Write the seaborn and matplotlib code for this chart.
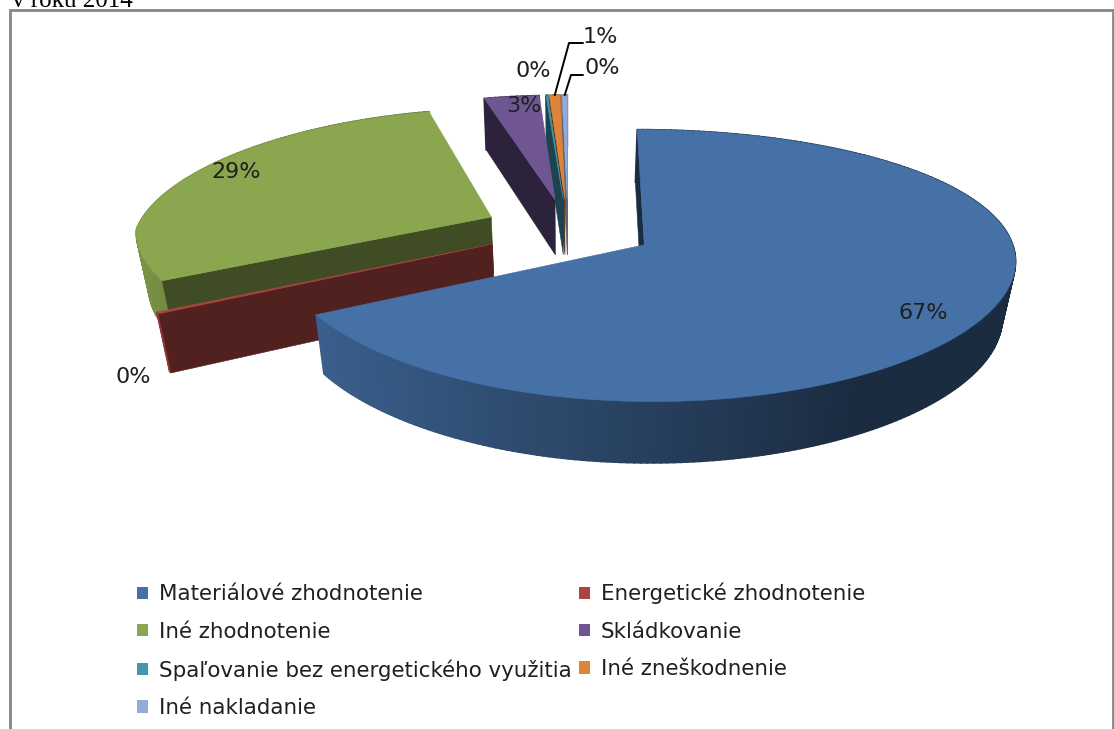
import numpy as np
import matplotlib
matplotlib.use("Agg")
import matplotlib.pyplot as plt
from matplotlib.patches import Patch, Rectangle
import seaborn as sns

categories = ["Materiálové zhodnotenie", "Energetické zhodnotenie", "Iné zhodnotenie",
              "Skládkovanie", "Spaľovanie bez energetického využitia", "Iné zneškodnenie",
              "Iné nakladanie"]
shares = [66.9, 0.2, 28.8, 3.1, 0.1, 0.6, 0.3]
colors = ["#4571A7", "#A94442", "#8AA64E", "#6F5693", "#3F97AE", "#DD843A", "#93ABD6"]
heading = "v roku 2014"

sns.set_theme(style="white")
palette = sns.color_palette(colors)

# projection of the tilted, exploded pie
CX, CY, A_RIGHT, A_LEFT, B, DEPTH = 568.0, 229.0, 364.0, 355.0, 128.0, 58.0
K, KX, KX_REAR, M, EXPLODE = 0.15, 0.10, 0.20, 0.03, 0.24


def project(X, Y, z):
    X, Y = np.asarray(X, float), np.asarray(Y, float)
    w = 1 + K * Y + M * z
    rear_left = (X < 0) & (Y > 0)
    wx = 1 + np.where(rear_left, KX_REAR, KX) * Y + M * z
    scale = np.where(X > 0, A_RIGHT, A_LEFT)
    return CX + scale * X / wx, CY - B * Y / w + DEPTH * z / w


def wall_light(theta):
    nx = np.sin(theta)
    return np.interp(nx, [-1.0, 0.0, 0.5, 1.0], [0.88, 0.56, 0.39, 0.39])


def shade(col, f):
    return tuple(c * f for c in col)


fig = plt.figure(figsize=(11.14, 7.29), dpi=100)
ax = fig.add_axes([0, 0, 1, 1])
ax.set_xlim(0, 1114)
ax.set_ylim(729, 0)
ax.axis("off")

ax.add_patch(Rectangle((9.5, 10), 1103, 740, fc="white", ec="#868686", lw=2))

fractions = np.array(shares) / sum(shares)
edges = np.concatenate([[0], np.cumsum(fractions)]) * 2 * np.pi
face_light = [0.39, 0.48, 0.46, 0.40, 0.45, 0.42, 0.6]


def slice_geometry(i):
    t0, t1 = edges[i], edges[i + 1]
    mid = (t0 + t1) / 2
    ox, oy = EXPLODE * np.sin(mid), EXPLODE * np.cos(mid)
    th = np.linspace(t0, t1, max(4, int((t1 - t0) * 60)))
    return th, ox, oy


def area(px, py):
    return 0.5 * np.sum(np.array(px) * np.roll(py, -1) - np.roll(px, -1) * np.array(py))


rim_tops = {}
for i in [6, 5, 4, 3, 2, 1, 0]:
    th, ox, oy = slice_geometry(i)
    col = palette[i]
    rx, ry = ox + np.sin(th), oy + np.cos(th)
    z_base = 2 + (6 - i) * 0.1
    # outer wall
    for a in range(len(th) - 1):
        X = [rx[a], rx[a + 1], rx[a + 1], rx[a]]
        Y = [ry[a], ry[a + 1], ry[a + 1], ry[a]]
        Z = [0, 0, 1, 1]
        px, py = zip(*[project(p, q, r) for p, q, r in zip(X, Y, Z)])
        fc = shade(col, wall_light((th[a] + th[a + 1]) / 2))
        ax.fill(px, py, color=fc, lw=1.2, zorder=z_base)
    # cut faces
    for t, sign in ((th[0], 1), (th[-1], -1)):
        X = [ox, ox + np.sin(t), ox + np.sin(t), ox]
        Y = [oy, oy + np.cos(t), oy + np.cos(t), oy]
        Z = [0, 0, 1, 1]
        px, py = zip(*[project(a, b, c) for a, b, c in zip(X, Y, Z)])
        if sign * area(px, py) < 0:
            ax.fill(px, py, color=shade(col, face_light[i]), lw=0.4, zorder=z_base + 0.02)
    # top surface
    tx, ty = project(np.r_[ox, rx], np.r_[oy, ry], 0)
    ax.fill(tx, ty, color=col, lw=0.4, zorder=z_base + 0.05)
    rim_tops[i] = project(ox + np.sin((th[0] + th[-1]) / 2), oy + np.cos((th[0] + th[-1]) / 2), 0)

text_kw = dict(color="#1f1f1f", fontsize=16, ha="center", va="center", zorder=6)
label_positions = [(923, 313), (133, 377), (236, 172), (524, 106), (533, 71), (600, 37), (602, 68)]
for v, (lx, ly) in zip(shares, label_positions):
    ax.text(lx, ly, f"{v:.0f}%", **text_kw)

# leader lines
for i, (mx, my) in ((5, (569, 43)), (6, (571, 75))):
    sx, sy = rim_tops[i]
    ax.plot([sx, mx, 583], [sy, my, my], color="black", lw=1.4, zorder=5)

handles = [Patch(facecolor=c, edgecolor="none") for c in palette]
order = [0, 2, 4, 6, 1, 3, 5]
ax.legend([handles[i] for i in order], [categories[i] for i in order], ncols=2,
          frameon=False, fontsize=15.4,
          loc="upper left", bbox_to_anchor=(137 / 1114, 1 - 583 / 729),
          borderaxespad=0, borderpad=0, handlelength=0.52, handleheight=0.52,
          handletextpad=0.51, labelspacing=0.81, columnspacing=0.33,
          labelcolor="#1f1f1f")

ax.text(12, 7, heading, family="Liberation Serif", fontsize=18, color="black",
        ha="left", va="baseline")

fig.savefig("out.png", dpi=100)
